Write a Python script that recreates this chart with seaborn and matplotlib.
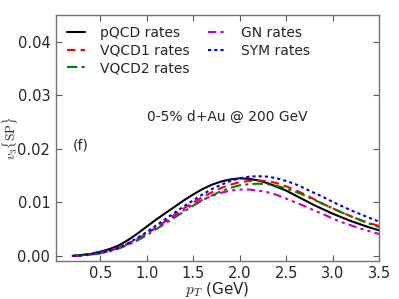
import numpy as np
import pandas as pd
import matplotlib
matplotlib.use("Agg")
import matplotlib.pyplot as plt
import seaborn as sns

pt = [0.2, 0.3, 0.4, 0.5, 0.6, 0.7, 0.8, 0.9, 1.0, 1.1, 1.2, 1.3, 1.4, 1.5, 1.6, 1.7,
      1.8, 1.9, 2.0, 2.1, 2.2, 2.3, 2.4, 2.5, 2.6, 2.7, 2.8, 2.9, 3.0, 3.1, 3.2, 3.3, 3.4, 3.5]

pqcd = [0.0000, 0.0002, 0.0004, 0.0008, 0.0013, 0.0020, 0.0030, 0.0042, 0.0055, 0.0068,
        0.0080, 0.0092, 0.0104, 0.0115, 0.0125, 0.0133, 0.0139, 0.0143, 0.0145, 0.0144,
        0.0141, 0.0136, 0.0129, 0.0122, 0.0113, 0.0104, 0.0095, 0.0087, 0.0079, 0.0072,
        0.0065, 0.0059, 0.0053, 0.0048]
vqcd1 = [0.0000, 0.0001, 0.0003, 0.0006, 0.0010, 0.0015, 0.0023, 0.0032, 0.0042, 0.0053,
         0.0065, 0.0077, 0.0089, 0.0100, 0.0110, 0.0119, 0.0127, 0.0133, 0.0138, 0.0140,
         0.0141, 0.0140, 0.0136, 0.0130, 0.0123, 0.0115, 0.0106, 0.0097, 0.0089, 0.0081,
         0.0074, 0.0067, 0.0061, 0.0056]
vqcd2 = [0.0000, 0.0001, 0.0002, 0.0005, 0.0009, 0.0014, 0.0021, 0.0029, 0.0039, 0.0050,
         0.0061, 0.0072, 0.0083, 0.0094, 0.0104, 0.0113, 0.0121, 0.0127, 0.0132, 0.0134,
         0.0135, 0.0134, 0.0131, 0.0126, 0.0120, 0.0113, 0.0105, 0.0097, 0.0089, 0.0081,
         0.0074, 0.0067, 0.0060, 0.0054]
gn = [0.0000, 0.0001, 0.0003, 0.0006, 0.0010, 0.0016, 0.0023, 0.0032, 0.0042, 0.0053,
      0.0064, 0.0075, 0.0086, 0.0096, 0.0105, 0.0112, 0.0118, 0.0122, 0.0124, 0.0124,
      0.0122, 0.0119, 0.0114, 0.0107, 0.0100, 0.0093, 0.0085, 0.0078, 0.0070, 0.0063,
      0.0057, 0.0051, 0.0046, 0.0041]
sym = [0.0000, 0.0001, 0.0003, 0.0006, 0.0010, 0.0016, 0.0024, 0.0034, 0.0045, 0.0057,
       0.0069, 0.0081, 0.0093, 0.0104, 0.0115, 0.0125, 0.0133, 0.0140, 0.0145, 0.0148,
       0.0149, 0.0148, 0.0145, 0.0140, 0.0134, 0.0126, 0.0118, 0.0110, 0.0101, 0.0093,
       0.0085, 0.0078, 0.0071, 0.0064]

labels = ["pQCD rates", "VQCD1 rates", "VQCD2 rates", "GN rates", "SYM rates"]
series = [pqcd, vqcd1, vqcd2, gn, sym]
colors = ["k", "r", "g", "m", "b"]
styles = ["-", (0, (4, 2.5)), (0, (5, 2, 1.5, 2)), (0, (4, 2, 1.5, 2, 1.5, 2)), (0, (1.5, 1.5))]
xticks = [0.5, 1.0, 1.5, 2.0, 2.5, 3.0, 3.5]
yticks = [0.00, 0.01, 0.02, 0.03, 0.04]

sns.set_style("ticks")
plt.rcParams["font.family"] = ["DejaVu Sans"]
plt.rcParams["mathtext.fontset"] = "cm"
plt.rcParams["xtick.direction"] = "in"
plt.rcParams["ytick.direction"] = "in"

fig, ax = plt.subplots(figsize=(3.99, 2.99), dpi=100)
fig.subplots_adjust(left=0.14, right=0.95, top=0.95, bottom=0.126)

for lab, ys, c, ls in zip(labels, series, colors, styles):
    df = pd.DataFrame({"pt": pt, "v3": ys})
    sns.lineplot(data=df, x="pt", y="v3", ax=ax, color=c, linestyle=ls,
                 linewidth=1.5, label=lab)

ax.set_xlim(0.02, 3.5)
ax.set_ylim(-0.001, 0.045)
ax.set_xticks(xticks)
ax.set_xticklabels([f"{t:.1f}" for t in xticks])
ax.set_yticks(yticks)
ax.set_yticklabels([f"{t:.2f}" for t in yticks])
ax.tick_params(axis="both", which="both", top=True, right=True, labelsize=10.5,
               length=4, width=0.8, color="0.35")
ax.tick_params(axis="x", pad=3.5)
ax.tick_params(axis="y", pad=4)
for sp in ax.spines.values():
    sp.set_color("0.45")
    sp.set_linewidth(1.0)

ax.set_xlabel(r"$p_T$ (GeV)", fontsize=11, labelpad=-1)
ax.set_ylabel(r"$v_3\{\rm SP\}$", fontsize=9.5)
ax.yaxis.set_label_coords(-0.112, 0.5)

ax.text(1.87, 0.026, "0-5% d+Au @ 200 GeV", fontsize=10, ha="center", va="center")
ax.text(0.29, 0.0207, "(f)", fontsize=10, ha="center", va="center")

ax.legend(loc="upper left", ncol=2, frameon=False, fontsize=10, handlelength=1.3,
          handletextpad=1.1, columnspacing=1.3, labelspacing=0.25,
          bbox_to_anchor=(0.0, 1.0), borderaxespad=0.4)

fig.savefig("out.png", dpi=100)
